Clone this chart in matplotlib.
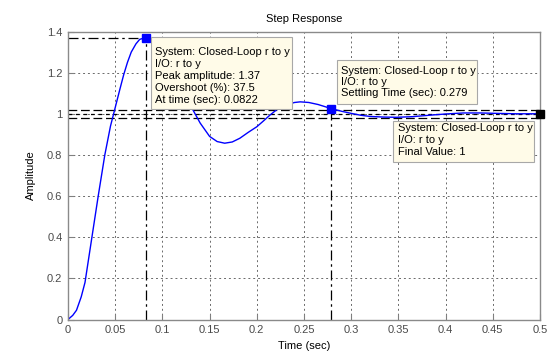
import matplotlib
matplotlib.use("Agg")
import matplotlib.pyplot as plt
from matplotlib.patches import Rectangle

# ---- data ----
time = [0, 0.005, 0.009, 0.014, 0.018, 0.025, 0.032, 0.039, 0.045, 0.050, 0.055,
        0.059, 0.063, 0.067, 0.072, 0.076, 0.0822, 0.088, 0.095, 0.102, 0.110,
        0.118, 0.125, 0.131, 0.140, 0.150, 0.158, 0.166, 0.174, 0.182, 0.191,
        0.200, 0.207, 0.214, 0.223, 0.232, 0.240, 0.246, 0.255, 0.265, 0.279,
        0.290, 0.300, 0.310, 0.320, 0.335, 0.348, 0.365, 0.383, 0.400, 0.419,
        0.437, 0.454, 0.475, 0.500]
amplitude = [0, 0.02, 0.045, 0.11, 0.18, 0.39, 0.60, 0.80, 0.94, 1.03, 1.12,
             1.19, 1.25, 1.30, 1.34, 1.362, 1.37, 1.365, 1.345, 1.305, 1.24,
             1.16, 1.09, 1.03, 0.955, 0.89, 0.865, 0.857, 0.863, 0.881, 0.91,
             0.937, 0.965, 0.994, 1.027, 1.045, 1.055, 1.058, 1.055, 1.045, 1.025,
             1.012, 1.002, 0.993, 0.987, 0.984, 0.983, 0.986, 0.993, 0.999, 1.004,
             1.004, 1.002, 1.0, 1.0]

peak_time, peak_amp = 0.0822, 1.37
settle_time, settle_amp = 0.279, 1.025
final_value = 1.0
settle_band = [1.02, 0.98]

xticks = [0, 0.05, 0.1, 0.15, 0.2, 0.25, 0.3, 0.35, 0.4, 0.45, 0.5]
xticklabels = ["0", "0.05", "0.1", "0.15", "0.2", "0.25", "0.3", "0.35", "0.4", "0.45", "0.5"]
yticks = [0, 0.2, 0.4, 0.6, 0.8, 1.0, 1.2, 1.4]
yticklabels = ["0", "0.2", "0.4", "0.6", "0.8", "1", "1.2", "1.4"]

box_peak = ["System: Closed-Loop r to y", "I/O: r to y", "Peak amplitude: 1.37",
            "Overshoot (%): 37.5", "At time (sec): 0.0822"]
box_settle = ["System: Closed-Loop r to y", "I/O: r to y", "Settling Time (sec): 0.279"]
box_final = ["System: Closed-Loop r to y", "I/O: r to y", "Final Value: 1"]

# ---- figure ----
plt.rcParams['font.family'] = ['Liberation Sans', 'DejaVu Sans']
W, H = 560, 357
fig = plt.figure(figsize=(W / 100, H / 100), dpi=100, facecolor='white')

def fx(px):
    return px / W

def fy(py):
    return 1 - py / H

L, R, T, B = 68, 540, 31.5, 319.5
ax = fig.add_axes([fx(L), fy(B), fx(R) - fx(L), fy(T) - fy(B)])
ax.set_xlim(0, 0.5)
ax.set_ylim(0, 1.4)

ax.set_xticks(xticks)
ax.set_xticklabels(xticklabels)
ax.set_yticks(yticks)
ax.set_yticklabels(yticklabels)
ax.tick_params(direction='in', length=4, width=0.8, colors='#808080',
               labelcolor='#4a4a4a', labelsize=8, top=False, right=False, pad=4)
for s in ax.spines.values():
    s.set_color('#8a8a8a')
    s.set_linewidth(1.0)

ax.grid(True, color='#6a6a6a', linestyle=(0, (2, 3)), linewidth=0.7)
ax.set_axisbelow(True)

# characteristic lines
dashdot = (0, (8, 3, 2, 3))
ax.plot([0, peak_time], [peak_amp, peak_amp], color='black', lw=0.9, linestyle=dashdot)
ax.plot([peak_time, peak_time], [0, peak_amp], color='black', lw=0.9, linestyle=dashdot)
for lvl in settle_band:
    ax.plot([0, 0.5], [lvl, lvl], color='black', lw=0.9, linestyle=(0, (7, 3)))
ax.plot([0, 0.5], [final_value, final_value], color='black', lw=0.9, linestyle=(0, (3, 3)))
ax.plot([settle_time, settle_time], [0, settle_band[0]], color='black', lw=0.9, linestyle=dashdot)

# response
ax.plot(time, amplitude, color='#0000ff', lw=1.0)

# markers
ax.plot([peak_time], [peak_amp], marker='s', color='#0000ff', markersize=6, clip_on=False)
ax.plot([settle_time], [settle_amp], marker='s', color='#0000ff', markersize=6, clip_on=False)
ax.plot([0.5], [final_value], marker='s', color='black', markersize=6, clip_on=False, zorder=5)

ax.set_title("Step Response", fontsize=8, color='black', pad=7)
ax.set_xlabel("Time (sec)", fontsize=8, color='black', labelpad=4)
ax.set_ylabel("Amplitude", fontsize=8, color='black', labelpad=8)

# data tip boxes
def databox(x0, y0, x1, y1, tx, lines, ly0, step=12):
    rect = Rectangle((fx(x0), fy(y1)), fx(x1) - fx(x0), fy(y0) - fy(y1),
                     transform=fig.transFigure, facecolor='#fffbe8',
                     edgecolor='#a8a8a8', linewidth=0.8, zorder=10)
    fig.add_artist(rect)
    for i, t in enumerate(lines):
        fig.text(fx(tx), fy(ly0 + i * step), t, fontsize=8, color='black',
                 ha='left', va='center', zorder=11)

databox(150.7, 37, 292, 109, 155, box_peak, 51.7)
databox(337, 60, 477, 104, 341, box_settle, 70.7, step=11.3)
databox(393, 121, 534, 162, 397.7, box_final, 128.3, step=11.7)

fig.savefig("out.png", dpi=100, facecolor='white')
